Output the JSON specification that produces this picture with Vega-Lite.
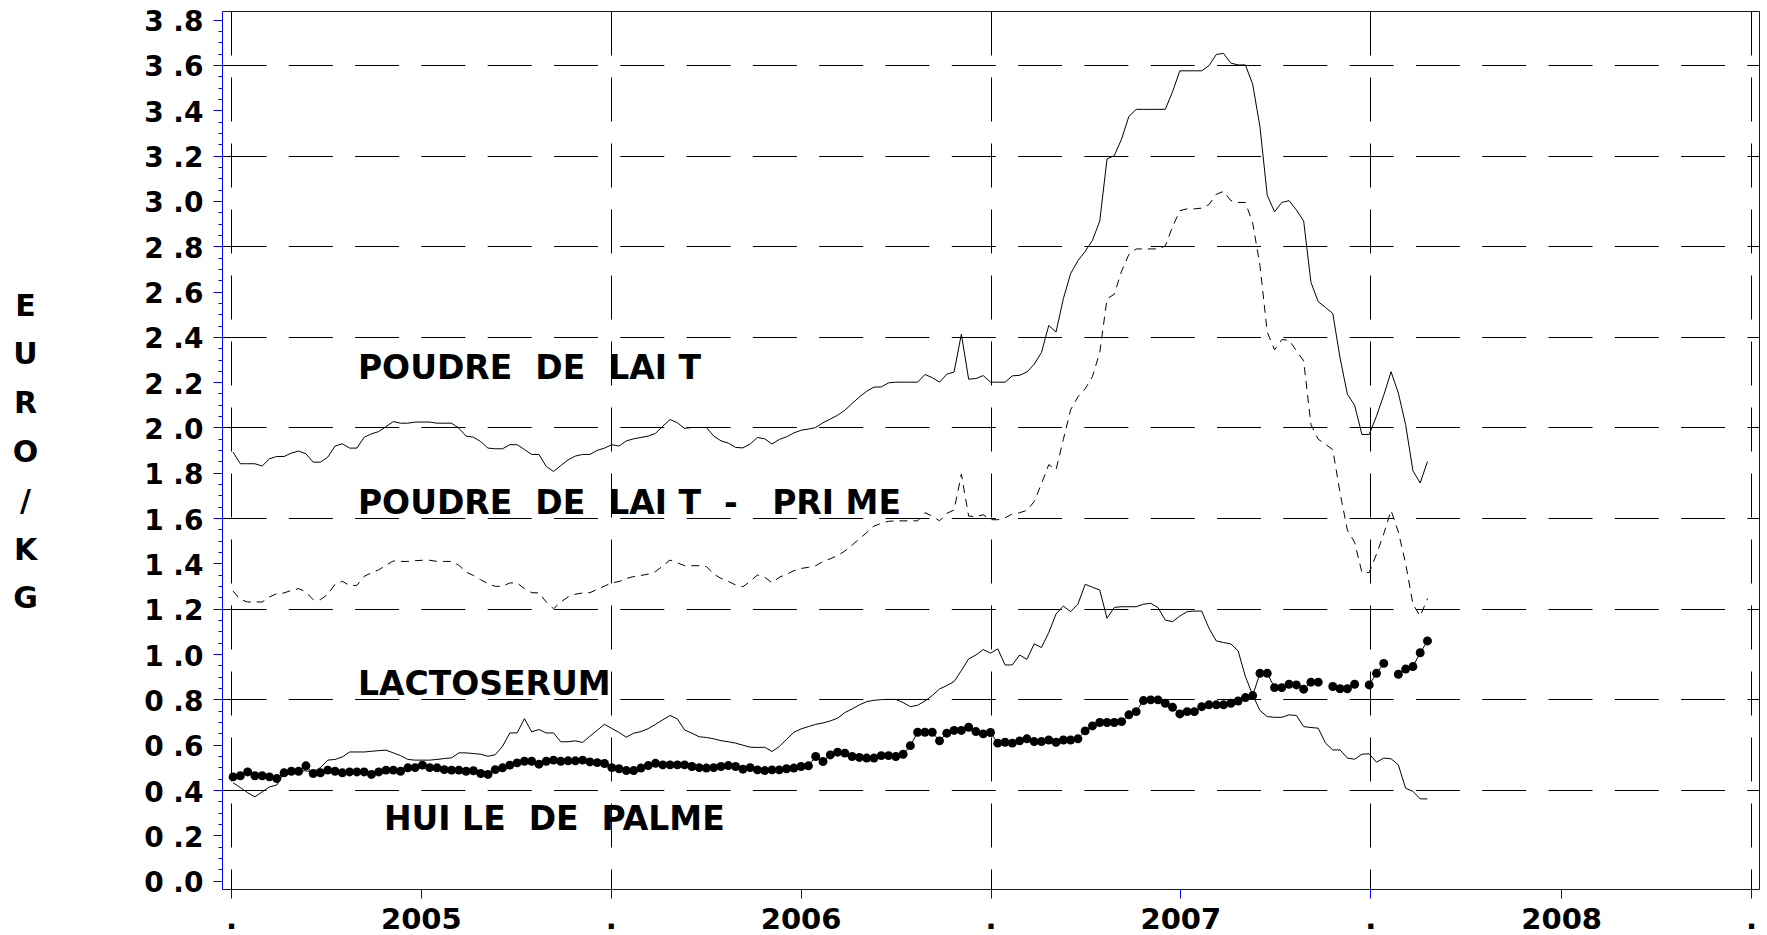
{
  "$schema": "https://vega.github.io/schema/vega-lite/v6.json",
  "autosize": {"type": "none"},
  "width": 1537,
  "height": 878,
  "padding": {"left": 222, "top": 11, "right": 8, "bottom": 46},
  "background": "white",
  "config": {
    "view": {"stroke": "#0000ff", "strokeWidth": 1},
    "axis": {"labelColor": "black", "titleColor": "black"}
  },
  "data": {"values": [
    {"d":"2005-01-03","a":1.891,"b":1.278,"c":0.432,"h":0.458},
    {"d":"2005-01-10","a":1.840,"b":1.240,"c":0.411,"h":0.463},
    {"d":"2005-01-17","a":1.840,"b":1.230,"c":0.388,"h":0.480},
    {"d":"2005-01-24","a":1.840,"b":1.230,"c":0.370,"h":0.463},
    {"d":"2005-01-31","a":1.830,"b":1.230,"c":0.392,"h":0.463},
    {"d":"2005-02-07","a":1.862,"b":1.252,"c":0.414,"h":0.458},
    {"d":"2005-02-14","a":1.872,"b":1.267,"c":0.422,"h":0.451},
    {"d":"2005-02-21","a":1.872,"b":1.270,"c":0.476,"h":0.476},
    {"d":"2005-02-28","a":1.887,"b":1.281,"c":0.491,"h":0.483},
    {"d":"2005-03-07","a":1.896,"b":1.289,"c":0.485,"h":0.483},
    {"d":"2005-03-14","a":1.884,"b":1.274,"c":0.485,"h":0.507},
    {"d":"2005-03-21","a":1.847,"b":1.240,"c":0.480,"h":0.473},
    {"d":"2005-03-28","a":1.847,"b":1.240,"c":0.499,"h":0.476},
    {"d":"2005-04-04","a":1.869,"b":1.264,"c":0.532,"h":0.488},
    {"d":"2005-04-11","a":1.918,"b":1.308,"c":0.535,"h":0.483},
    {"d":"2005-04-18","a":1.928,"b":1.321,"c":0.546,"h":0.476},
    {"d":"2005-04-25","a":1.909,"b":1.303,"c":0.568,"h":0.480},
    {"d":"2005-05-02","a":1.909,"b":1.303,"c":0.568,"h":0.480},
    {"d":"2005-05-09","a":1.957,"b":1.343,"c":0.568,"h":0.480},
    {"d":"2005-05-16","a":1.972,"b":1.359,"c":0.571,"h":0.469},
    {"d":"2005-05-23","a":1.982,"b":1.372,"c":0.574,"h":0.480},
    {"d":"2005-05-30","a":2.004,"b":1.392,"c":0.576,"h":0.488},
    {"d":"2005-06-06","a":2.026,"b":1.411,"c":0.564,"h":0.488},
    {"d":"2005-06-13","a":2.019,"b":1.409,"c":0.552,"h":0.483},
    {"d":"2005-06-20","a":2.019,"b":1.409,"c":0.535,"h":0.498},
    {"d":"2005-06-27","a":2.024,"b":1.412,"c":0.532,"h":0.499},
    {"d":"2005-07-04","a":2.024,"b":1.414,"c":0.532,"h":0.510},
    {"d":"2005-07-11","a":2.024,"b":1.414,"c":0.532,"h":0.499},
    {"d":"2005-07-18","a":2.019,"b":1.409,"c":0.535,"h":0.498},
    {"d":"2005-07-25","a":2.019,"b":1.409,"c":0.539,"h":0.490},
    {"d":"2005-08-01","a":2.019,"b":1.409,"c":0.542,"h":0.488},
    {"d":"2005-08-08","a":1.997,"b":1.392,"c":0.564,"h":0.488},
    {"d":"2005-08-15","a":1.962,"b":1.362,"c":0.564,"h":0.483},
    {"d":"2005-08-22","a":1.957,"b":1.347,"c":0.561,"h":0.485},
    {"d":"2005-08-29","a":1.938,"b":1.328,"c":0.558,"h":0.473},
    {"d":"2005-09-05","a":1.909,"b":1.311,"c":0.549,"h":0.469},
    {"d":"2005-09-12","a":1.906,"b":1.299,"c":0.556,"h":0.490},
    {"d":"2005-09-19","a":1.906,"b":1.299,"c":0.593,"h":0.498},
    {"d":"2005-09-26","a":1.924,"b":1.314,"c":0.652,"h":0.510},
    {"d":"2005-10-03","a":1.924,"b":1.314,"c":0.652,"h":0.520},
    {"d":"2005-10-10","a":1.903,"b":1.289,"c":0.715,"h":0.527},
    {"d":"2005-10-17","a":1.881,"b":1.271,"c":0.657,"h":0.527},
    {"d":"2005-10-24","a":1.881,"b":1.270,"c":0.667,"h":0.514},
    {"d":"2005-10-31","a":1.828,"b":1.230,"c":0.652,"h":0.527},
    {"d":"2005-11-07","a":1.806,"b":1.200,"c":0.652,"h":0.532},
    {"d":"2005-11-14","a":1.832,"b":1.230,"c":0.613,"h":0.527},
    {"d":"2005-11-21","a":1.857,"b":1.252,"c":0.613,"h":0.529},
    {"d":"2005-11-28","a":1.874,"b":1.264,"c":0.617,"h":0.529},
    {"d":"2005-12-05","a":1.881,"b":1.270,"c":0.610,"h":0.532},
    {"d":"2005-12-12","a":1.881,"b":1.271,"c":0.638,"h":0.524},
    {"d":"2005-12-19","a":1.899,"b":1.286,"c":0.664,"h":0.521},
    {"d":"2005-12-26","a":1.909,"b":1.300,"c":0.690,"h":0.517},
    {"d":"2006-01-02","a":1.924,"b":1.315,"c":0.672,"h":0.499},
    {"d":"2006-01-09","a":1.918,"b":1.320,"c":0.654,"h":0.494},
    {"d":"2006-01-16","a":1.941,"b":1.334,"c":0.633,"h":0.486},
    {"d":"2006-01-23","a":1.950,"b":1.342,"c":0.651,"h":0.486},
    {"d":"2006-01-30","a":1.956,"b":1.347,"c":0.658,"h":0.497},
    {"d":"2006-02-06","a":1.962,"b":1.353,"c":0.671,"h":0.508},
    {"d":"2006-02-13","a":1.974,"b":1.364,"c":0.690,"h":0.518},
    {"d":"2006-02-20","a":2.006,"b":1.389,"c":0.710,"h":0.511},
    {"d":"2006-02-27","a":2.035,"b":1.415,"c":0.729,"h":0.511},
    {"d":"2006-03-06","a":2.021,"b":1.403,"c":0.714,"h":0.511},
    {"d":"2006-03-13","a":1.996,"b":1.390,"c":0.665,"h":0.511},
    {"d":"2006-03-20","a":2.000,"b":1.390,"c":0.651,"h":0.504},
    {"d":"2006-03-27","a":2.000,"b":1.390,"c":0.635,"h":0.499},
    {"d":"2006-04-03","a":2.000,"b":1.386,"c":0.632,"h":0.497},
    {"d":"2006-04-10","a":1.962,"b":1.353,"c":0.626,"h":0.499},
    {"d":"2006-04-17","a":1.941,"b":1.334,"c":0.618,"h":0.504},
    {"d":"2006-04-24","a":1.931,"b":1.321,"c":0.613,"h":0.508},
    {"d":"2006-05-01","a":1.912,"b":1.305,"c":0.607,"h":0.504},
    {"d":"2006-05-08","a":1.910,"b":1.297,"c":0.598,"h":0.492},
    {"d":"2006-05-15","a":1.927,"b":1.321,"c":0.589,"h":0.499},
    {"d":"2006-05-22","a":1.956,"b":1.349,"c":0.588,"h":0.489},
    {"d":"2006-05-29","a":1.950,"b":1.339,"c":0.589,"h":0.486},
    {"d":"2006-06-05","a":1.927,"b":1.315,"c":0.570,"h":0.489},
    {"d":"2006-06-12","a":1.947,"b":1.339,"c":0.592,"h":0.489},
    {"d":"2006-06-19","a":1.959,"b":1.352,"c":0.624,"h":0.494},
    {"d":"2006-06-26","a":1.976,"b":1.368,"c":0.655,"h":0.497},
    {"d":"2006-07-03","a":1.988,"b":1.378,"c":0.670,"h":0.504},
    {"d":"2006-07-10","a":1.993,"b":1.383,"c":0.680,"h":0.507},
    {"d":"2006-07-17","a":2.000,"b":1.390,"c":0.690,"h":0.548},
    {"d":"2006-07-24","a":2.021,"b":1.408,"c":0.696,"h":0.526},
    {"d":"2006-07-31","a":2.037,"b":1.421,"c":0.705,"h":0.555},
    {"d":"2006-08-07","a":2.054,"b":1.434,"c":0.717,"h":0.567},
    {"d":"2006-08-14","a":2.076,"b":1.455,"c":0.742,"h":0.563},
    {"d":"2006-08-21","a":2.106,"b":1.481,"c":0.758,"h":0.548},
    {"d":"2006-08-28","a":2.135,"b":1.509,"c":0.776,"h":0.544},
    {"d":"2006-09-04","a":2.160,"b":1.536,"c":0.790,"h":0.541},
    {"d":"2006-09-11","a":2.178,"b":1.565,"c":0.796,"h":0.541},
    {"d":"2006-09-18","a":2.179,"b":1.577,"c":0.799,"h":0.552},
    {"d":"2006-09-25","a":2.197,"b":1.586,"c":0.800,"h":0.552},
    {"d":"2006-10-02","a":2.200,"b":1.588,"c":0.800,"h":0.548},
    {"d":"2006-10-09","a":2.200,"b":1.588,"c":0.786,"h":0.558},
    {"d":"2006-10-16","a":2.200,"b":1.588,"c":0.768,"h":0.596},
    {"d":"2006-10-23","a":2.200,"b":1.588,"c":0.774,"h":0.655},
    {"d":"2006-10-30","a":2.234,"b":1.624,"c":0.793,"h":0.655},
    {"d":"2006-11-06","a":2.220,"b":1.609,"c":0.817,"h":0.655},
    {"d":"2006-11-13","a":2.200,"b":1.588,"c":0.846,"h":0.617},
    {"d":"2006-11-20","a":2.235,"b":1.621,"c":0.861,"h":0.651},
    {"d":"2006-11-27","a":2.245,"b":1.636,"c":0.879,"h":0.663},
    {"d":"2006-12-04","a":2.412,"b":1.794,"c":0.927,"h":0.663},
    {"d":"2006-12-11","a":2.213,"b":1.609,"c":0.979,"h":0.677},
    {"d":"2006-12-18","a":2.216,"b":1.606,"c":0.996,"h":0.658},
    {"d":"2006-12-25","a":2.229,"b":1.615,"c":1.020,"h":0.648},
    {"d":"2007-01-01","a":2.200,"b":1.593,"c":1.004,"h":0.654},
    {"d":"2007-01-08","a":2.200,"b":1.593,"c":1.023,"h":0.607},
    {"d":"2007-01-15","a":2.200,"b":1.601,"c":0.952,"h":0.611},
    {"d":"2007-01-22","a":2.228,"b":1.619,"c":0.952,"h":0.607},
    {"d":"2007-01-29","a":2.230,"b":1.624,"c":0.996,"h":0.617},
    {"d":"2007-02-05","a":2.245,"b":1.634,"c":0.977,"h":0.626},
    {"d":"2007-02-12","a":2.279,"b":1.673,"c":1.045,"h":0.614},
    {"d":"2007-02-19","a":2.331,"b":1.752,"c":1.029,"h":0.614},
    {"d":"2007-02-26","a":2.450,"b":1.836,"c":1.095,"h":0.621},
    {"d":"2007-03-05","a":2.421,"b":1.814,"c":1.177,"h":0.611},
    {"d":"2007-03-12","a":2.568,"b":1.947,"c":1.212,"h":0.621},
    {"d":"2007-03-19","a":2.679,"b":2.078,"c":1.187,"h":0.621},
    {"d":"2007-03-26","a":2.736,"b":2.135,"c":1.220,"h":0.626},
    {"d":"2007-04-02","a":2.777,"b":2.171,"c":1.308,"h":0.661},
    {"d":"2007-04-09","a":2.826,"b":2.225,"c":1.295,"h":0.683},
    {"d":"2007-04-16","a":2.911,"b":2.331,"c":1.283,"h":0.698},
    {"d":"2007-04-23","a":3.185,"b":2.568,"c":1.158,"h":0.698},
    {"d":"2007-04-30","a":3.200,"b":2.588,"c":1.206,"h":0.698},
    {"d":"2007-05-07","a":3.273,"b":2.690,"c":1.209,"h":0.702},
    {"d":"2007-05-14","a":3.373,"b":2.764,"c":1.209,"h":0.732},
    {"d":"2007-05-21","a":3.404,"b":2.788,"c":1.209,"h":0.746},
    {"d":"2007-05-28","a":3.404,"b":2.788,"c":1.220,"h":0.795},
    {"d":"2007-06-04","a":3.404,"b":2.788,"c":1.224,"h":0.798},
    {"d":"2007-06-11","a":3.404,"b":2.788,"c":1.205,"h":0.798},
    {"d":"2007-06-18","a":3.404,"b":2.801,"c":1.150,"h":0.783},
    {"d":"2007-06-25","a":3.482,"b":2.886,"c":1.143,"h":0.765},
    {"d":"2007-07-02","a":3.574,"b":2.957,"c":1.168,"h":0.736},
    {"d":"2007-07-09","a":3.574,"b":2.965,"c":1.187,"h":0.746},
    {"d":"2007-07-16","a":3.574,"b":2.965,"c":1.190,"h":0.746},
    {"d":"2007-07-23","a":3.574,"b":2.968,"c":1.190,"h":0.768},
    {"d":"2007-07-30","a":3.597,"b":2.984,"c":1.114,"h":0.776},
    {"d":"2007-08-06","a":3.646,"b":3.029,"c":1.058,"h":0.776},
    {"d":"2007-08-13","a":3.651,"b":3.042,"c":1.051,"h":0.776},
    {"d":"2007-08-20","a":3.608,"b":3.001,"c":1.045,"h":0.783},
    {"d":"2007-08-27","a":3.600,"b":2.993,"c":1.014,"h":0.793},
    {"d":"2007-09-03","a":3.600,"b":2.993,"c":0.901,"h":0.808},
    {"d":"2007-09-10","a":3.515,"b":2.903,"c":0.820,"h":0.817},
    {"d":"2007-09-17","a":3.327,"b":2.715,"c":0.751,"h":0.915},
    {"d":"2007-09-24","a":3.025,"b":2.421,"c":0.724,"h":0.915},
    {"d":"2007-10-01","a":2.952,"b":2.343,"c":0.721,"h":0.852},
    {"d":"2007-10-08","a":2.993,"b":2.388,"c":0.721,"h":0.852},
    {"d":"2007-10-15","a":3.001,"b":2.385,"c":0.732,"h":0.867},
    {"d":"2007-10-22","a":2.960,"b":2.339,"c":0.729,"h":0.864},
    {"d":"2007-10-29","a":2.911,"b":2.294,"c":0.680,"h":0.845},
    {"d":"2007-11-05","a":2.641,"b":2.013,"c":0.676,"h":0.876},
    {"d":"2007-11-12","a":2.555,"b":1.948,"c":0.673,"h":0.876},
    {"d":"2007-11-19","a":2.530,"b":1.926,"c":0.607,"h":null},
    {"d":"2007-11-26","a":2.503,"b":1.902,"c":0.577,"h":0.857},
    {"d":"2007-12-03","a":2.307,"b":1.711,"c":0.577,"h":0.847},
    {"d":"2007-12-10","a":2.147,"b":1.547,"c":0.541,"h":0.847},
    {"d":"2007-12-17","a":2.098,"b":1.493,"c":0.536,"h":0.867},
    {"d":"2007-12-24","a":1.969,"b":1.360,"c":0.558,"h":null},
    {"d":"2007-12-31","a":1.969,"b":1.360,"c":0.560,"h":0.864},
    {"d":"2008-01-07","a":2.050,"b":1.441,"c":0.523,"h":0.915},
    {"d":"2008-01-14","a":2.143,"b":1.531,"c":0.541,"h":0.959},
    {"d":"2008-01-21","a":2.246,"b":1.634,"c":0.538,"h":null},
    {"d":"2008-01-28","a":2.152,"b":1.539,"c":0.511,"h":0.911},
    {"d":"2008-02-04","a":2.013,"b":1.400,"c":0.408,"h":0.934},
    {"d":"2008-02-11","a":1.809,"b":1.221,"c":0.394,"h":0.945},
    {"d":"2008-02-18","a":1.755,"b":1.167,"c":0.361,"h":1.006},
    {"d":"2008-02-25","a":1.850,"b":1.245,"c":0.361,"h":1.058}
  ]},
  "layer": [
    {
      "mark": {"type": "line", "color": "black", "strokeWidth": 1},
      "encoding": {
        "x": {"field": "d", "type": "temporal",
          "scale": {"type": "utc", "domain": [{"year": 2004, "month": 12, "date": 23, "hours": 8, "minutes": 24, "utc": true}, {"year": 2009, "month": 1, "date": 8, "hours": 15, "minutes": 36, "utc": true}]},
          "axis": {"orient": "bottom", "title": null, "domain": false, "grid": false,
            "values": [
              {"year": 2005, "month": 1, "date": 1, "utc": true},
              {"year": 2005, "month": 7, "date": 2, "hours": 12, "utc": true},
              {"year": 2006, "month": 1, "date": 1, "utc": true},
              {"year": 2006, "month": 7, "date": 2, "hours": 12, "utc": true},
              {"year": 2007, "month": 1, "date": 1, "utc": true},
              {"year": 2007, "month": 7, "date": 2, "hours": 12, "utc": true},
              {"year": 2008, "month": 1, "date": 1, "utc": true},
              {"year": 2008, "month": 7, "date": 2, "hours": 12, "utc": true},
              {"year": 2009, "month": 1, "date": 1, "utc": true}
            ],
            "labelExpr": "utcmonth(datum.value) < 3 ? '.' : utcFormat(datum.value, '%Y')",
            "labelFont": "DejaVu Sans", "labelFontWeight": "bold", "labelFontSize": 29,
            "labelBaseline": "alphabetic", "labelPadding": 30, "labelAlign": "center",
            "labelOverlap": false, "labelFlush": false,
            "ticks": true, "tickSize": 9, "tickColor": "#0000ff", "tickWidth": 1}},
        "y": {"field": "a", "type": "quantitative",
          "scale": {"domain": [-0.0367, 3.838], "nice": false, "zero": false},
          "axis": {"orient": "left", "domain": false, "grid": false,
            "values": [0, 0.2, 0.4, 0.6, 0.8, 1.0, 1.2, 1.4, 1.6, 1.8, 2.0, 2.2, 2.4, 2.6, 2.8, 3.0, 3.2, 3.4, 3.6, 3.8],
            "labelExpr": "replace(format(datum.value, '.1f'), '.', ' .')",
            "labelFont": "DejaVu Sans", "labelFontWeight": "bold", "labelFontSize": 28,
            "labelPadding": 10, "labelOffset": 3, "labelOverlap": false, "labelFlush": false,
            "ticks": true, "tickSize": 9, "tickColor": "#0000ff", "tickWidth": 1,
            "title": ["E", "U", "R", "O", "/", "K", "G"],
            "titleAngle": 0, "titleFont": "DejaVu Sans", "titleFontWeight": "bold", "titleFontSize": 30,
            "titleLineHeight": 48.8, "titleX": -197, "titleY": 295, "titleAlign": "center", "titleBaseline": "middle"}}
      }
    },
    {
      "mark": {"type": "line", "color": "black", "strokeWidth": 1, "strokeDash": [8, 6]},
      "encoding": {
        "x": {"field": "d", "type": "temporal",
          "axis": {"orient": "bottom", "title": null, "domain": false, "labels": false, "ticks": false,
            "grid": true, "gridColor": "black", "gridWidth": 1, "gridDash": [44, 22],
            "values": [
              {"year": 2005, "month": 1, "date": 1, "utc": true},
              {"year": 2006, "month": 1, "date": 1, "utc": true},
              {"year": 2007, "month": 1, "date": 1, "utc": true},
              {"year": 2008, "month": 1, "date": 1, "utc": true},
              {"year": 2009, "month": 1, "date": 1, "utc": true}
            ]}},
        "y": {"field": "b", "type": "quantitative",
          "axis": {"orient": "left", "title": null, "domain": false, "labels": false, "ticks": false,
            "grid": true, "gridColor": "black", "gridWidth": 1, "gridDash": [44, 22.3],
            "values": [0.4, 0.8, 1.2, 1.6, 2.0, 2.4, 2.8, 3.2, 3.6]}}
      }
    },
    {
      "mark": {"type": "line", "color": "black", "strokeWidth": 1},
      "encoding": {
        "x": {"field": "d", "type": "temporal", "axis": null},
        "y": {"field": "c", "type": "quantitative",
          "axis": {"orient": "left", "title": null, "domain": false, "labels": false, "grid": false,
            "ticks": true, "tickSize": 4, "tickColor": "#0000ff", "tickWidth": 1,
            "values": [0, 0.05, 0.1, 0.15, 0.2, 0.25, 0.3, 0.35, 0.4, 0.45, 0.5, 0.55, 0.6, 0.65, 0.7, 0.75, 0.8, 0.85, 0.9, 0.95, 1.0, 1.05, 1.1, 1.15, 1.2, 1.25, 1.3, 1.35, 1.4, 1.45, 1.5, 1.55, 1.6, 1.65, 1.7, 1.75, 1.8, 1.85, 1.9, 1.95, 2.0, 2.05, 2.1, 2.15, 2.2, 2.25, 2.3, 2.35, 2.4, 2.45, 2.5, 2.55, 2.6, 2.65, 2.7, 2.75, 2.8, 2.85, 2.9, 2.95, 3.0, 3.05, 3.1, 3.15, 3.2, 3.25, 3.3, 3.35, 3.4, 3.45, 3.5, 3.55, 3.6, 3.65, 3.7, 3.75, 3.8]}}
      }
    },
    {
      "mark": {"type": "line", "color": "black", "strokeWidth": 1, "invalid": "break-paths-show-domains"},
      "encoding": {
        "x": {"field": "d", "type": "temporal", "axis": null},
        "y": {"field": "h", "type": "quantitative", "axis": null}
      }
    },
    {
      "mark": {"type": "point", "filled": true, "color": "black", "opacity": 1, "size": 80, "shape": "circle"},
      "encoding": {
        "x": {"field": "d", "type": "temporal", "axis": null},
        "y": {"field": "h", "type": "quantitative", "axis": null}
      }
    },
    {
      "data": {"values": [
        {"t": "POUDRE\u00a0 DE\u00a0 LAI T", "d": "2005-05-03", "v": 2.215},
        {"t": "POUDRE\u00a0 DE\u00a0 LAI T\u00a0 -\u00a0\u00a0 PRI ME", "d": "2005-05-03", "v": 1.62},
        {"t": "LACTOSERUM", "d": "2005-05-03", "v": 0.819},
        {"t": "HUI LE\u00a0 DE\u00a0 PALME", "d": "2005-05-28", "v": 0.2235}
      ]},
      "mark": {"type": "text", "align": "left", "baseline": "alphabetic", "font": "DejaVu Sans", "fontWeight": "bold", "fontSize": 33, "color": "black"},
      "encoding": {
        "x": {"field": "d", "type": "temporal", "axis": null},
        "y": {"field": "v", "type": "quantitative", "axis": null},
        "text": {"field": "t"}
      }
    }
  ],
  "resolve": {"axis": {"x": "independent", "y": "independent"}}
}
